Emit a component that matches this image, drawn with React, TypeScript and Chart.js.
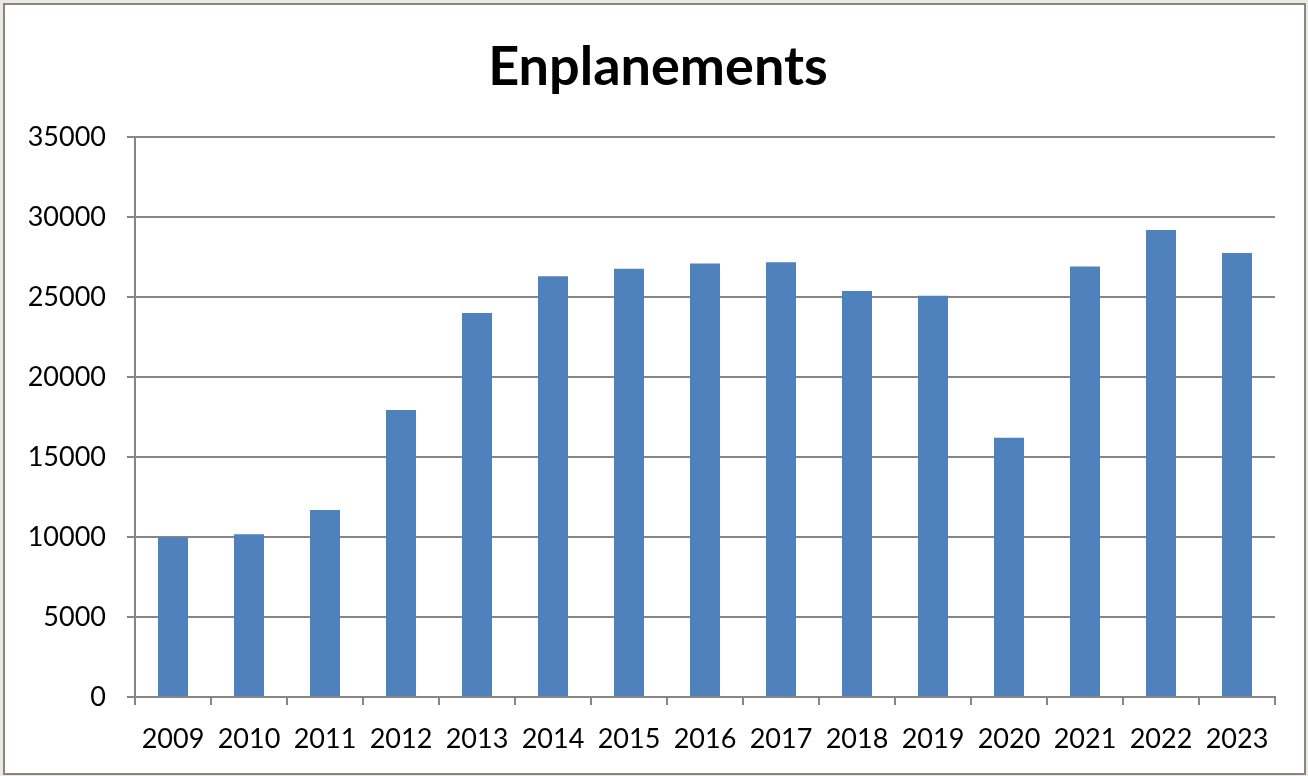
import React, { useEffect, useRef } from "react";
import { Chart, registerables } from "chart.js";

Chart.register(...registerables);

const years = ["2009","2010","2011","2012","2013","2014","2015","2016","2017","2018","2019","2020","2021","2022","2023"];
const enplanements = [9980, 10170, 11690, 17940, 24000, 26300, 26770, 27100, 27170, 25375, 25080, 16210, 26900, 29190, 27750];
const yTicksMin = 0;
const yTicksMax = 35000;
const yTicksStep = 5000;
const chartTitle = "Enplanements";

const FONT = "Lato, 'Open Sans', sans-serif";

export default function App() {
  const ref = useRef<HTMLCanvasElement | null>(null);
  useEffect(() => {
    if (!ref.current) return;
    const gridColor = "#868686";
    const chart = new Chart(ref.current, {
      type: "bar",
      data: {
        labels: years,
        datasets: [
          {
            data: enplanements,
            backgroundColor: "#4f81bd",
            borderWidth: 0,
            barPercentage: 0.395,
            categoryPercentage: 1,
          },
        ],
      },
      options: {
        animation: false,
        responsive: false,
        devicePixelRatio: 1,
        layout: { padding: { left: 0, right: 33, top: 137, bottom: 0 } },
        plugins: {
          legend: { display: false },
          tooltip: { enabled: false },
          title: { display: false },
        },
        scales: {
          x: {
            grid: {
              display: true,
              drawOnChartArea: false,
              drawTicks: true,
              tickLength: 8,
              offset: true,
              color: gridColor,
              lineWidth: 2,
            },
            border: { display: true, color: gridColor, width: 2 },
            ticks: {
              color: "#000",
              font: { family: FONT, size: 27 },
              padding: 18,
              maxRotation: 0,
              autoSkip: false,
            },
            afterFit: (scale: any) => {
              scale.height = 79;
            },
          },
          y: {
            min: yTicksMin,
            max: yTicksMax,
            grid: {
              color: gridColor,
              lineWidth: 2,
              tickLength: 8,
              drawTicks: true,
            },
            border: { display: true, color: gridColor, width: 2 },
            ticks: {
              stepSize: yTicksStep,
              color: "#000",
              font: { family: FONT, size: 27 },
              padding: 21,
              callback: (v: any) => String(v),
            },
            afterFit: (scale: any) => {
              scale.width = 135;
            },
          },
        },
      },
    });
    return () => chart.destroy();
  }, []);

  return (
    <div style={{ position: "absolute", left: 0, top: 0, width: 1308, height: 776, background: "#ece9e0" }}>
      <div
        style={{
          position: "absolute",
          left: 3,
          top: 3,
          width: 1299,
          height: 768,
          border: "2px solid #868686",
          background: "#fff",
        }}
      />
      <canvas ref={ref} width={1308} height={776} style={{ position: "absolute", left: 0, top: 0 }} />
      <div
        style={{
          position: "absolute",
          left: 0,
          width: 1316,
          top: 38,
          textAlign: "center",
          fontFamily: FONT,
          fontWeight: 700,
          fontSize: 54,
          lineHeight: "54px",
          color: "#000",
          whiteSpace: "nowrap",
        }}
      >
        {chartTitle}
      </div>
    </div>
  );
}
